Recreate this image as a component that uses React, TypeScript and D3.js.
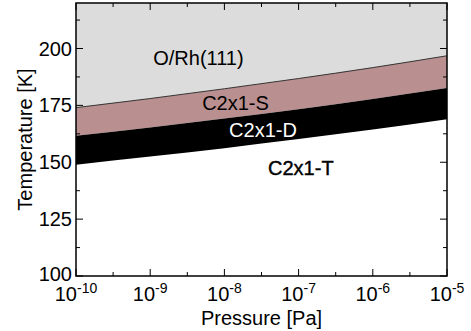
import React from 'react';
import * as d3 from 'd3';

// decades of pressure (Pa) where the phase boundaries were read
const pressureExp = [-10, -9, -8, -7, -6, -5];
// phase boundaries in K
const boundaryRhS = [174.0, 178.0, 182.3, 186.8, 191.6, 196.8];
const boundarySD = [161.6, 165.3, 169.2, 173.3, 177.8, 182.6];
const boundaryDT = [148.9, 152.5, 156.2, 160.2, 164.4, 168.9];

const yMajor = [100, 125, 150, 175, 200];
const yMinor = [112.5, 137.5, 162.5, 187.5, 212.5];

const phaseLabels = [
    { text: 'O/Rh(111)', p: 10 ** -8.35, t: 192.7, color: '#000', stroke: 0 },
    { text: 'C2x1-S', p: 10 ** -7.85, t: 173.0, color: '#000', stroke: 0 },
    { text: 'C2x1-D', p: 10 ** -7.48, t: 161.2, color: '#fff', stroke: 0 },
    { text: 'C2x1-T', p: 10 ** -6.97, t: 144.4, color: '#000', stroke: 0.4 },
];

const W = 471;
const H = 331;
const margin = { top: 3, right: 24, bottom: 55, left: 76 };
const FONT = '"Liberation Sans", Arial, Helvetica, sans-serif';

const App: React.FC = () => {
    const x = d3.scaleLog().domain([1e-10, 1e-5]).range([margin.left, W - margin.right]);
    const y = d3.scaleLinear().domain([100, 220]).range([H - margin.bottom, margin.top]);
    const x0 = x.range()[0], x1 = x.range()[1];
    const y0 = y.range()[0], y1 = y.range()[1];

    const rows = pressureExp.map((e, i) => ({
        p: 10 ** e,
        a: boundaryRhS[i],
        b: boundarySD[i],
        c: boundaryDT[i],
    }));

    const band = (top: (d: any) => number, bot: (d: any) => number) =>
        d3.area<any>()
            .x(d => x(d.p))
            .y0(d => y(bot(d)))
            .y1(d => y(top(d)))
            .curve(d3.curveMonotoneX)(rows) || '';
    const line = (f: (d: any) => number) =>
        d3.line<any>().x(d => x(d.p)).y(d => y(f(d))).curve(d3.curveMonotoneX)(rows) || '';

    const xMajor = pressureExp.map(e => 10 ** e);
    const xMinor = pressureExp.slice(0, -1).map(e => 10 ** (e + 0.5));

    return (
        <svg width={W} height={H} style={{ position: 'fixed', left: 0, top: 0, background: '#fff' }} fontFamily={FONT}>
            <defs>
                <clipPath id="plot">
                    <rect x={x0} y={y1} width={x1 - x0} height={y0 - y1} />
                </clipPath>
            </defs>
            <g clipPath="url(#plot)">
                <rect x={x0} y={y1} width={x1 - x0} height={y0 - y1} fill="#fff" />
                <path d={band(() => 220, d => d.a)} fill="#dcdcdc" />
                <path d={band(d => d.a, d => d.b)} fill="#ba8f8f" />
                <path d={band(d => d.b, d => d.c)} fill="#000" />
                <path d={line(d => d.a)} fill="none" stroke="#333" strokeWidth={1} />
            </g>

            {phaseLabels.map(l => (
                <text key={l.text} x={x(l.p)} y={y(l.t)} textAnchor="middle" fontSize={20}
                    fill={l.color} stroke={l.stroke ? l.color : 'none'} strokeWidth={l.stroke}>{l.text}</text>
            ))}

            {/* ticks on all four sides, pointing inward */}
            <g stroke="#000" strokeWidth={1}>
                {xMajor.map(v => (
                    <g key={'xM' + v}>
                        <line x1={x(v)} x2={x(v)} y1={y0} y2={y0 - 7} />
                        <line x1={x(v)} x2={x(v)} y1={y1} y2={y1 + 7} />
                    </g>
                ))}
                {xMinor.map(v => (
                    <g key={'xm' + v}>
                        <line x1={x(v)} x2={x(v)} y1={y0} y2={y0 - 4} />
                        <line x1={x(v)} x2={x(v)} y1={y1} y2={y1 + 4} />
                    </g>
                ))}
                {yMajor.map(v => (
                    <g key={'yM' + v}>
                        <line x1={x0} x2={x0 + 7} y1={y(v)} y2={y(v)} />
                        <line x1={x1} x2={x1 - 7} y1={y(v)} y2={y(v)} />
                    </g>
                ))}
                {yMinor.map(v => (
                    <g key={'ym' + v}>
                        <line x1={x0} x2={x0 + 4} y1={y(v)} y2={y(v)} />
                        <line x1={x1} x2={x1 - 4} y1={y(v)} y2={y(v)} />
                    </g>
                ))}
            </g>
            <rect x={x0} y={y1} width={x1 - x0} height={y0 - y1} fill="none" stroke="#000" strokeWidth={1.5} />

            {yMajor.map(v => (
                <text key={'yl' + v} x={x0 - 4} y={y(v) + (v === 100 ? 5 : 7)} textAnchor="end" fontSize={20}>{v}</text>
            ))}
            {pressureExp.map(e => (
                <text key={'xl' + e} x={x(10 ** e)} y={y0 + 25} textAnchor="middle" fontSize={20}>
                    10<tspan fontSize={14} dy={-8}>{e}</tspan>
                </text>
            ))}

            <text x={(x0 + x1) / 2} y={H - 6} textAnchor="middle" fontSize={20}>Pressure [Pa]</text>
            <text transform={`translate(32,${(y0 + y1) / 2}) rotate(-90)`} textAnchor="middle" fontSize={20}>Temperature [K]</text>
        </svg>
    );
};

export default App;
